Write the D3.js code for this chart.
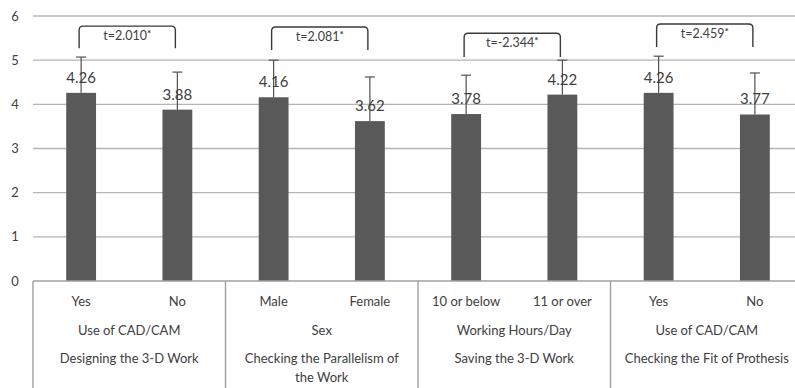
<!DOCTYPE html>
<html>
<head>
<meta charset="utf-8">
<script src="https://cdn.jsdelivr.net/npm/d3@7"></script>
<style>
  html, body { margin: 0; padding: 0; background: #fff; }
  svg { display: block; }
  text { font-family: Lato, "Open Sans", sans-serif; fill: #404040; }
</style>
</head>
<body>
<svg id="chart" width="795" height="388"></svg>
<script>
// Category labels, one per bar
const categories = ["Yes", "No", "Male", "Female", "10 or below", "11 or over", "Yes", "No"];
// Mean scores and standard deviations per bar
const means = [4.26, 3.88, 4.16, 3.62, 3.78, 4.22, 4.26, 3.77];
const sds = [0.81, 0.85, 0.84, 1.00, 0.88, 0.78, 0.83, 0.94];
// Grouping factor and task for each pair of bars
const groupFactors = ["Use of CAD/CAM", "Sex", "Working Hours/Day", "Use of CAD/CAM"];
const groupTasks = [["Designing the 3-D Work"], ["Checking the Parallelism of", "the Work"], ["Saving the 3-D Work"], ["Checking the Fit of Prothesis"]];
// t-test results for each pair
const tLabels = ["t=2.010", "t=2.081", "t=-2.344", "t=2.459"];
const tStars = ["*", "*", "*", "*"];
// Y axis ticks
const yTicks = [0, 1, 2, 3, 4, 5, 6];

const svg = d3.select("#chart");
const plotLeft = 33, plotRight = 803, plotTop = 16, plotBottom = 281;

const x = d3.scaleBand()
  .domain(d3.range(categories.length))
  .range([plotLeft, plotRight])
  .paddingInner(0.69)
  .paddingOuter(0.345);
const step = x.step();
const cx = i => x(i) + x.bandwidth() / 2;

const y = d3.scaleLinear().domain([0, 6]).range([plotBottom, plotTop]);

// Gridlines
svg.append("g")
  .selectAll("line")
  .data(yTicks.filter(d => d > 0))
  .join("line")
  .attr("x1", plotLeft).attr("x2", plotRight)
  .attr("y1", d => y(d)).attr("y2", d => y(d))
  .attr("stroke", "#b4b4b4").attr("stroke-width", 1.4);

// Y tick labels
svg.append("g")
  .selectAll("text")
  .data(yTicks)
  .join("text")
  .attr("x", 15).attr("y", d => y(d) + 4.5)
  .attr("text-anchor", "middle")
  .attr("font-size", 13)
  .text(d => d);

// Bars
svg.append("g")
  .selectAll("rect")
  .data(means)
  .join("rect")
  .attr("x", (d, i) => x(i))
  .attr("width", x.bandwidth())
  .attr("y", d => y(d))
  .attr("height", d => y(0) - y(d))
  .attr("fill", "#595959");

// Error bars (upper half)
const eb = svg.append("g").attr("stroke", "#505050").attr("stroke-width", 1.2);
means.forEach((m, i) => {
  const hi = m + sds[i];
  eb.append("line").attr("x1", cx(i)).attr("x2", cx(i)).attr("y1", y(m)).attr("y2", y(hi));
  eb.append("line").attr("x1", cx(i) - 5).attr("x2", cx(i) + 5).attr("y1", y(hi)).attr("y2", y(hi));
});

// Value labels
svg.append("g")
  .selectAll("text")
  .data(means)
  .join("text")
  .attr("x", (d, i) => cx(i))
  .attr("y", d => y(d) - 10)
  .attr("text-anchor", "middle")
  .attr("font-size", 15)
  .text(d => d.toFixed(2));

// Category axis: baseline, separators and labels
const axis = svg.append("g");
axis.append("line")
  .attr("x1", plotLeft).attr("x2", plotRight)
  .attr("y1", plotBottom).attr("y2", plotBottom)
  .attr("stroke", "#a0a0a0").attr("stroke-width", 1.4);
d3.range(groupFactors.length + 1).forEach(g => {
  const xs = plotLeft + g * 2 * step;
  axis.append("line")
    .attr("x1", xs).attr("x2", xs)
    .attr("y1", plotBottom).attr("y2", 388)
    .attr("stroke", "#a0a0a0").attr("stroke-width", 1.4);
});
axis.selectAll("text.cat")
  .data(categories)
  .join("text")
  .attr("class", "cat")
  .attr("x", (d, i) => cx(i))
  .attr("y", 306)
  .attr("text-anchor", "middle")
  .attr("font-size", 13)
  .text(d => d);
groupFactors.forEach((f, g) => {
  const gx = plotLeft + (g * 2 + 1) * step;
  axis.append("text")
    .attr("x", gx).attr("y", 335)
    .attr("text-anchor", "middle")
    .attr("font-size", 13)
    .text(f);
  groupTasks[g].forEach((line, k) => {
    axis.append("text")
      .attr("x", gx).attr("y", 363 + k * 19)
      .attr("text-anchor", "middle")
      .attr("font-size", 13)
      .text(line);
  });
});

// Significance brackets
const bracketTop = [5.77, 5.75, 5.61, 5.82];
const bracketLeg = [5.27, 5.23, 5.07, 5.30];
const br = svg.append("g");
groupFactors.forEach((f, g) => {
  const x0 = cx(2 * g) - 2, x1 = cx(2 * g + 1) - 2;
  const yt = y(bracketTop[g]), yb = y(bracketLeg[g]), r = 4;
  const p = d3.path();
  p.moveTo(x0, yb);
  p.lineTo(x0, yt + r);
  p.quadraticCurveTo(x0, yt, x0 + r, yt);
  p.lineTo(x1 - r, yt);
  p.quadraticCurveTo(x1, yt, x1, yt + r);
  p.lineTo(x1, yb);
  br.append("path").attr("d", p.toString())
    .attr("fill", "none").attr("stroke", "#3a3a3a").attr("stroke-width", 1.4);
  const t = br.append("text")
    .attr("x", (x0 + x1) / 2).attr("y", yt + 14)
    .attr("text-anchor", "middle")
    .attr("font-size", 12.5);
  t.append("tspan").text(tLabels[g]);
  t.append("tspan").attr("dy", -3).attr("font-size", 10).attr("font-weight", "bold").text(tStars[g]);
});
</script>
</body>
</html>
